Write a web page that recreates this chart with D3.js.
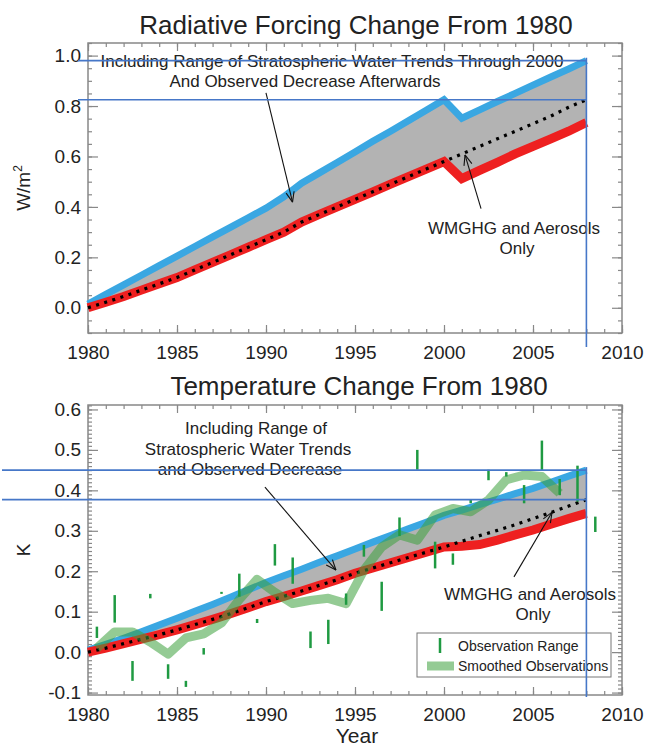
<!DOCTYPE html>
<html><head><meta charset="utf-8">
<script src="https://cdn.jsdelivr.net/npm/d3@7"></script>
<style>
body{margin:0;background:#fff}
text{font-family:'Liberation Sans',Arial,Helvetica,sans-serif;fill:#222}
</style>
</head><body>
<svg id="c" width="647" height="746"></svg>
<script>
// ---------- DATA ----------
const years = [1980,1981,1982,1983,1984,1985,1986,1987,1988,1989,1990,1991,1992,1993,1994,1995,1996,1997,1998,1999,2000,2001,2002,2003,2004,2005,2006,2007,2008];

// Radiative forcing (W/m2)
const forcingUpper = [0.015,0.053,0.091,0.129,0.167,0.205,0.243,0.281,0.319,0.357,0.395,0.44,0.494,0.535,0.576,0.618,0.66,0.70,0.742,0.783,0.825,0.752,0.785,0.818,0.85,0.883,0.915,0.947,0.98];
const forcingLower = [0.00,0.022,0.045,0.07,0.095,0.12,0.15,0.18,0.21,0.24,0.27,0.30,0.34,0.37,0.40,0.43,0.46,0.49,0.52,0.55,0.58,0.512,0.545,0.577,0.61,0.64,0.67,0.70,0.735];
const forcingGhgOnly = [0.00,0.022,0.045,0.07,0.095,0.12,0.15,0.18,0.21,0.24,0.27,0.30,0.34,0.37,0.40,0.43,0.46,0.49,0.52,0.55,0.58,0.61,0.64,0.67,0.70,0.73,0.76,0.795,0.825];

// Temperature change (K)
const tempUpper = [0.005,0.019,0.034,0.05,0.067,0.084,0.101,0.118,0.136,0.154,0.172,0.189,0.205,0.222,0.238,0.255,0.272,0.288,0.305,0.321,0.338,0.351,0.365,0.378,0.392,0.405,0.42,0.435,0.45];
const tempLower = [0.00,0.01,0.021,0.032,0.043,0.055,0.068,0.081,0.095,0.11,0.125,0.138,0.151,0.165,0.179,0.195,0.208,0.221,0.234,0.247,0.26,0.262,0.266,0.277,0.29,0.302,0.316,0.33,0.343];
const tempGhgOnly = [0.00,0.01,0.021,0.032,0.043,0.055,0.068,0.081,0.095,0.11,0.125,0.138,0.151,0.165,0.179,0.195,0.208,0.221,0.234,0.247,0.26,0.274,0.288,0.301,0.315,0.33,0.345,0.361,0.377];

// Observations
const obsYears = [1980.5,1981.5,1982.5,1983.5,1984.5,1985.5,1986.5,1987.5,1988.5,1989.5,1990.5,1991.5,1992.5,1993.5,1994.5,1995.5,1996.5,1997.5,1998.5,1999.5,2000.5,2001.5,2002.5,2003.5,2004.5,2005.5,2006.5,2007.5,2008.5];
const obsHigh = [0.063,0.141,-0.022,0.144,-0.030,-0.071,0.010,0.149,0.194,0.082,0.267,0.234,0.051,0.080,0.145,0.265,0.174,0.333,0.500,0.273,0.244,0.378,0.451,0.445,0.413,0.523,0.428,0.461,0.335];
const obsLow  = [0.035,0.073,-0.071,0.133,-0.066,-0.086,-0.006,0.144,0.137,0.072,0.214,0.169,0.010,0.020,0.117,0.236,0.102,0.287,0.451,0.207,0.216,0.368,0.425,0.434,0.368,0.449,0.388,0.372,0.297];
const smoothYears = [1980.5,1981.5,1982.5,1983.5,1984.5,1985.5,1986.5,1987.5,1988.5,1989.5,1990.5,1991.5,1992.5,1993.5,1994.5,1995.5,1996.5,1997.5,1998.5,1999.5,2000.5,2001.5,2002.5,2003.5,2004.5,2005.5,2006.5];
const smoothObs = [0.01,0.05,0.05,0.025,-0.005,0.035,0.045,0.072,0.13,0.18,0.148,0.12,0.128,0.133,0.12,0.203,0.26,0.29,0.277,0.339,0.355,0.347,0.376,0.426,0.438,0.434,0.393];

// Ticks
const xMajorTicks = [1980,1985,1990,1995,2000,2005,2010];
const forcingTicks = [0.0,0.2,0.4,0.6,0.8,1.0];
const tempTicks = [-0.1,0.0,0.1,0.2,0.3,0.4,0.5,0.6];
const endYear = 2008;

// ---------- STYLE ----------
const C = {
  blue:'#3aa7e2', red:'#ee2020', gray:'#b3b3b3', frame:'#888',
  bar:'#1f9a42', smooth:'rgb(60,160,60)', mark:'#4677c8'
};
const svg = d3.select('#c');
const fmt = d => d.toFixed(1);

function drawFrame(g, x, y, opt){
  const [x0,x1] = x.range(), [y0,y1] = y.range(); // y0 bottom, y1 top
  const style = s => { s.select('.domain').remove(); s.selectAll('line').attr('stroke',C.frame).attr('stroke-width',1.2);
    s.selectAll('text').attr('font-size',19).attr('fill','#222').style('font-family',"'Liberation Sans',Arial,sans-serif"); };
  // minor
  g.append('g').attr('transform',`translate(0,${y0})`).call(d3.axisBottom(x).tickValues(opt.xMinor).tickSize(-4).tickFormat('')).call(style);
  g.append('g').attr('transform',`translate(0,${y1})`).call(d3.axisTop(x).tickValues(opt.xMinor).tickSize(-4).tickFormat('')).call(style);
  g.append('g').attr('transform',`translate(${x0},0)`).call(d3.axisLeft(y).tickValues(opt.yMinor).tickSize(-4).tickFormat('')).call(style);
  g.append('g').attr('transform',`translate(${x1},0)`).call(d3.axisRight(y).tickValues(opt.yMinor).tickSize(-4).tickFormat('')).call(style);
  // major
  g.append('g').attr('transform',`translate(0,${y0})`).call(d3.axisBottom(x).tickValues(xMajorTicks).tickSize(-8).tickPadding(13).tickFormat(d3.format('d'))).call(style);
  g.append('g').attr('transform',`translate(0,${y1})`).call(d3.axisTop(x).tickValues(xMajorTicks).tickSize(-8).tickFormat('')).call(style);
  g.append('g').attr('transform',`translate(${x0},0)`).call(d3.axisLeft(y).tickValues(opt.yMajor).tickSize(-10).tickPadding(7).tickFormat(fmt)).call(style);
  g.append('g').attr('transform',`translate(${x1},0)`).call(d3.axisRight(y).tickValues(opt.yMajor).tickSize(-10).tickFormat('')).call(style);
  g.append('rect').attr('x',x0).attr('y',y1).attr('width',x1-x0).attr('height',y0-y1)
    .attr('fill','none').attr('stroke',C.frame).attr('stroke-width',1.5);
}

function drawModel(g, x, y, upper, lower, ghg){
  const rows = years.map((yr,i)=>({yr, u:upper[i], l:lower[i], d:ghg[i]}));
  g.append('path').datum(rows).attr('fill',C.gray)
    .attr('d', d3.area().x(d=>x(d.yr)).y0(d=>y(d.l)).y1(d=>y(d.u)));
  g.append('path').datum(rows).attr('fill','none').attr('stroke',C.blue).attr('stroke-width',7)
    .attr('d', d3.line().x(d=>x(d.yr)).y(d=>y(d.u)));
  g.append('path').datum(rows).attr('fill','none').attr('stroke',C.red).attr('stroke-width',9)
    .attr('d', d3.line().x(d=>x(d.yr)).y(d=>y(d.l)));
  g.append('path').datum(rows).attr('fill','none').attr('stroke','#000').attr('stroke-width',3.2)
    .attr('stroke-dasharray','3,5.5')
    .attr('d', d3.line().x(d=>x(d.yr)).y(d=>y(d.d)));
}

function arrow(g, x, y, from, to){
  const x1=x(from[0]), y1=y(from[1]), x2=x(to[0]), y2=y(to[1]);
  g.append('line').attr('x1',x1).attr('y1',y1).attr('x2',x2).attr('y2',y2).attr('stroke','#111').attr('stroke-width',1.1);
  const ang = Math.atan2(y2-y1, x2-x1), L=11, a=0.38;
  [-1,1].forEach(s=>{
    g.append('line').attr('x1',x2).attr('y1',y2)
      .attr('x2',x2 - L*Math.cos(ang+s*a)).attr('y2',y2 - L*Math.sin(ang+s*a))
      .attr('stroke','#111').attr('stroke-width',1.1);
  });
}
function label(g, px, py, str, size){
  return g.append('text').attr('x',px).attr('y',py).attr('text-anchor','middle').attr('font-size',size||17).text(str);
}

// ---------- TOP: Radiative forcing ----------
const xT = d3.scaleLinear().domain([1980,2010]).range([88,622]);
const yT = d3.scaleLinear().domain([-0.1,1.05]).range([333,43]);
const gT = svg.append('g');
drawFrame(gT, xT, yT, {xMinor: d3.range(1980,2011), yMinor: d3.range(-0.1,1.051,0.05), yMajor: forcingTicks});
drawModel(gT, xT, yT, forcingUpper, forcingLower, forcingGhgOnly);
label(gT, 356, 34, 'Radiative Forcing Change From 1980', 26).attr('fill','#1a1a1a');
label(gT, 332, 67, 'Including Range of Stratospheric Water Trends Through 2000');
label(gT, 305, 87, 'And Observed Decrease Afterwards');
label(gT, 514, 234, 'WMGHG and Aerosols');
label(gT, 517, 254, 'Only');
arrow(gT, xT, yT, [1990.0, 0.852], [1991.49, 0.419]);
arrow(gT, xT, yT, [2002.08, 0.393], [2001.18, 0.606]);
const wl = gT.append('text').attr('transform','translate(30,188) rotate(-90)').attr('text-anchor','middle').attr('font-size',19);
wl.append('tspan').text('W/m');
wl.append('tspan').attr('font-size',12).attr('dy',-8).text('2');

// ---------- BOTTOM: Temperature ----------
const xB = d3.scaleLinear().domain([1980,2010]).range([88,622]);
const yB = d3.scaleLinear().domain([-0.106,0.611]).range([695,405]);
const gB = svg.append('g');
drawFrame(gB, xB, yB, {xMinor: d3.range(1980,2011), yMinor: d3.range(-0.1,0.611,0.01), yMajor: tempTicks});
drawModel(gB, xB, yB, tempUpper, tempLower, tempGhgOnly);
// smoothed observations
gB.append('path').datum(smoothYears.map((yr,i)=>[yr, smoothObs[i]]))
  .attr('fill','none').attr('stroke',C.smooth).attr('stroke-opacity',0.55).attr('stroke-width',9).attr('stroke-linejoin','round')
  .attr('d', d3.line().x(d=>xB(d[0])).y(d=>yB(d[1])));
// observation ranges
gB.selectAll('.obs').data(obsYears.map((yr,i)=>({yr, hi:obsHigh[i], lo:obsLow[i]}))).enter()
  .append('line').attr('x1',d=>xB(d.yr)).attr('x2',d=>xB(d.yr))
  .attr('y1',d=>yB(d.hi)).attr('y2',d=>yB(d.lo)).attr('stroke',C.bar).attr('stroke-width',2.5);

label(gB, 359, 395, 'Temperature Change From 1980', 26).attr('fill','#1a1a1a');
label(gB, 256, 434, 'Including Range of');
label(gB, 248, 455, 'Stratospheric Water Trends');
label(gB, 250, 475, 'and Observed Decrease');
label(gB, 530, 600, 'WMGHG and Aerosols');
label(gB, 533, 620, 'Only');
arrow(gB, xB, yB, [1989.94, 0.408], [1993.93, 0.203]);
arrow(gB, xB, yB, [2003.93, 0.186], [2006.07, 0.346]);
gB.append('text').attr('transform','translate(30,550) rotate(-90)').attr('text-anchor','middle').attr('font-size',19).text('K');
label(gB, 357, 743, 'Year', 21);

// legend
const lg = gB.append('g');
lg.append('rect').attr('x',417).attr('y',633).attr('width',194).attr('height',44).attr('fill','#fff').attr('stroke','#777').attr('stroke-width',1);
lg.append('line').attr('x1',440).attr('x2',440).attr('y1',638).attr('y2',653).attr('stroke',C.bar).attr('stroke-width',2.5);
lg.append('text').attr('x',458).attr('y',651).attr('font-size',14).text('Observation Range');
lg.append('line').attr('x1',427).attr('x2',454).attr('y1',666).attr('y2',666).attr('stroke',C.smooth).attr('stroke-opacity',0.55).attr('stroke-width',9);
lg.append('text').attr('x',458).attr('y',671).attr('font-size',14).text('Smoothed Observations');

// ---------- blue marker lines (end values at 2008) ----------
const last = a => a[a.length-1];
const mk = svg.append('g').attr('stroke',C.mark).attr('stroke-width',1.6);
mk.append('line').attr('x1',78).attr('x2',xT(endYear)).attr('y1',yT(last(forcingUpper))).attr('y2',yT(last(forcingUpper)));
mk.append('line').attr('x1',78).attr('x2',xT(endYear)).attr('y1',yT(last(forcingGhgOnly))).attr('y2',yT(last(forcingGhgOnly)));
mk.append('line').attr('x1',xT(endYear)).attr('x2',xT(endYear)).attr('y1',yT(last(forcingUpper))-3).attr('y2',347);
mk.append('line').attr('x1',2).attr('x2',xB(endYear)).attr('y1',yB(last(tempUpper))).attr('y2',yB(last(tempUpper)));
mk.append('line').attr('x1',2).attr('x2',xB(endYear)).attr('y1',yB(last(tempGhgOnly))).attr('y2',yB(last(tempGhgOnly)));
mk.append('line').attr('x1',xB(endYear)).attr('x2',xB(endYear)).attr('y1',yB(last(tempUpper))-3).attr('y2',697);
</script>
</body></html>
